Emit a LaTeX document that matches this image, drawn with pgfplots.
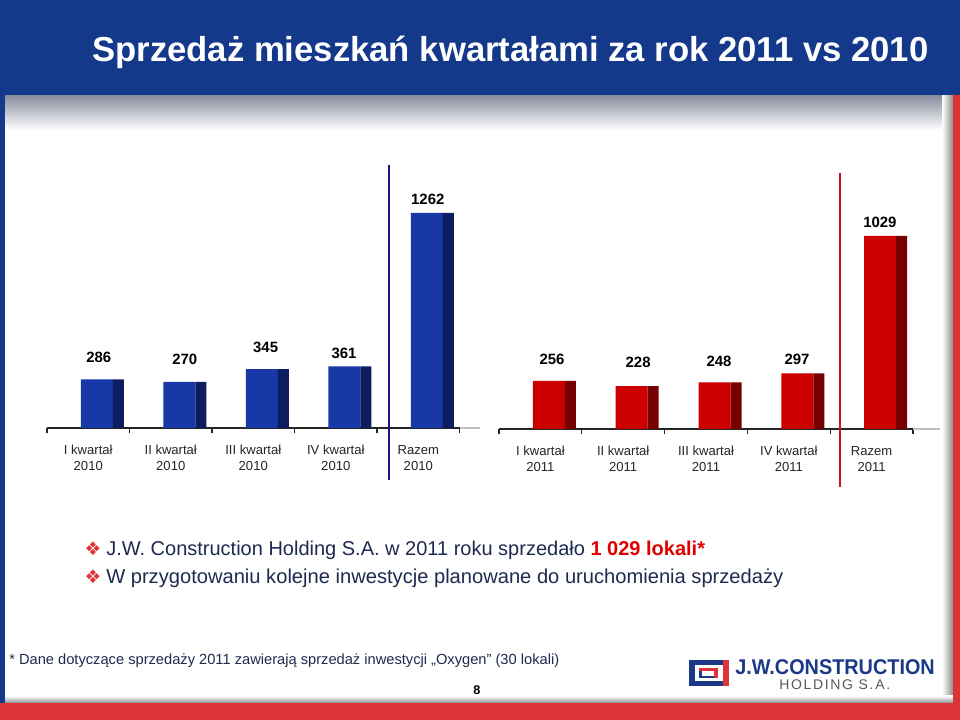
\documentclass[border=0pt]{standalone}
\usepackage{fontspec}
\setmainfont{Liberation Sans}
\newfontfamily\dejavu{DejaVu Sans}
\newfontfamily\logobold{Liberation Sans}[FakeStretch=0.93]
\newfontfamily\logothin{Liberation Sans}[LetterSpace=12]
\usepackage{pgfplots}
\pgfplotsset{compat=1.18}
\usepackage{pgfplotstable}

\definecolor{hdrblue}{RGB}{20,56,138}
\definecolor{barblue}{RGB}{24,56,168}
\definecolor{barblueD}{RGB}{12,30,96}
\definecolor{barred}{RGB}{204,0,0}
\definecolor{barredD}{RGB}{118,0,0}
\definecolor{bandred}{RGB}{222,52,56}
\definecolor{navytext}{RGB}{30,42,80}
\definecolor{divblue}{RGB}{20,20,130}
\definecolor{divred}{RGB}{200,20,30}
\definecolor{logoblue}{RGB}{26,58,135}
\definecolor{hlred}{RGB}{225,0,0}

\pgfplotstableread{
x y lx ly
0 286 0.127 417
1 270 1.17 405
2 345 2.15 475
3 361 3.10 440
4 1262 4.115 1344
}\dataA
\pgfplotstableread{
x y lx ly
0 256 0.14 373
1 228 1.18 357
2 248 2.157 362
3 297 3.10 373
4 1029 4.10 1103
}\dataB

\pgfplotsset{
  slidebars/.style={
    scale only axis, anchor=south west,
    xmin=-0.5, xmax=4.5, ymin=0, ymax=1400,
    clip=false,
    axis y line=none, axis x line=bottom,
    x axis line style={-, line width=1pt, draw=black!85},
    xtick={0,1,2,3,4},
    xticklabel style={align=center, font=\fontsize{9.8}{12}\selectfont, text=black!85, yshift=-9.5pt},
    minor xtick={-0.5,0.5,...,4.5},
    major tick length=0pt, minor tick length=4pt,
    tick align=outside,
    tick style={black!85, line width=0.8pt},
  },
  vallabels/.style={draw=none, mark=none, nodes near coords, point meta=explicit symbolic,
    nodes near coords style={anchor=center, font=\bfseries\fontsize{11.2}{12}\selectfont, text=black}},
}

\begin{document}
\begin{tikzpicture}[x=0.75pt, y=0.75pt]
% slide frame
\fill[white] (0,0) rectangle (960,720);
\shade[top color={rgb,255:red,135;green,140;blue,158}, bottom color=white] (5,590) rectangle (948,625);
\shade[left color=white, right color=black!45] (942,17) rectangle (953,625);
\shade[top color=white, bottom color=black!45] (5,17) rectangle (953,24);
\fill[hdrblue] (0,625) rectangle (960,720);
\fill[hdrblue] (0,17) rectangle (5,625);
\fill[bandred] (953,17) rectangle (960,625);
\fill[bandred] (0,0) rectangle (960,17);

\node[anchor=base west, inner sep=0, text=white, font=\bfseries\fontsize{26}{30}\selectfont] at (92,658) {Sprzedaż mieszkań kwartałami za rok 2011 vs 2010};

% 2010 chart
\begin{axis}[slidebars,
  at={(35.25pt,219pt)}, width=309.4pt, height=178.9pt,
  xticklabels={{I kwartał\\2010},{II kwartał\\2010},{III kwartał\\2010},{IV kwartał\\2010},{Razem\\2010}},
]
\addplot[ybar, bar width=24pt, bar shift=6.4pt, fill=barblue, draw=none] table[x=x, y=y]{\dataA};
\addplot[ybar, bar width=8.25pt, bar shift=22.5pt, fill=barblueD, draw=none] table[x=x, y=y]{\dataA};
\addplot[vallabels] table[x=lx, y=ly, meta=y]{\dataA};
\end{axis}

% 2011 chart
\begin{axis}[slidebars,
  at={(374.25pt,218.25pt)}, width=310.5pt, height=197pt,
  xticklabels={{I kwartał\\2011},{II kwartał\\2011},{III kwartał\\2011},{IV kwartał\\2011},{Razem\\2011}},
]
\addplot[ybar, bar width=24pt, bar shift=6.4pt, fill=barred, draw=none] table[x=x, y=y]{\dataB};
\addplot[ybar, bar width=8.25pt, bar shift=22.5pt, fill=barredD, draw=none] table[x=x, y=y]{\dataB};
\addplot[vallabels] table[x=lx, y=ly, meta=y]{\dataB};
\end{axis}

\draw[black!25, line width=1pt] (460,292) -- (480,292);
\draw[black!25, line width=1pt] (913,291) -- (940,291);
\draw[divblue, line width=1.6pt] (389,555) -- (389,240);
\draw[divred, line width=1.6pt] (840,547) -- (840,233);

% bullets
\node[anchor=base, inner sep=0, text=bandred, font=\dejavu\fontsize{14}{15}\selectfont] at (93,164) {❖};
\node[anchor=base west, inner sep=0, text=navytext, font=\fontsize{15}{18}\selectfont] at (106,164) {J.W. Construction Holding S.A. w 2011 roku sprzedało \textcolor{hlred}{\bfseries 1 029 lokali*}};
\node[anchor=base, inner sep=0, text=bandred, font=\dejavu\fontsize{14}{15}\selectfont] at (93,136) {❖};
\node[anchor=base west, inner sep=0, text=navytext, font=\fontsize{15.1}{18}\selectfont] at (106,136) {W przygotowaniu kolejne inwestycje planowane do uruchomienia sprzedaży};

% footnote & page
\node[anchor=base west, inner sep=0, text=navytext, font=\fontsize{11}{13}\selectfont] at (9,55) {* Dane dotyczące sprzedaży 2011 zawierają sprzedaż inwestycji „Oxygen” (30 lokali)};
\node[inner sep=0, font=\bfseries\fontsize{9.5}{11}\selectfont] at (477,30) {8};

% logo
\fill[logoblue] (689,34) rectangle (729,60);
\fill[bandred] (723,34) rectangle (729,60);
\fill[white] (695,39) rectangle (723,55);
\fill[bandred] (699,42) rectangle (718,52);
\fill[logoblue] (699,42) rectangle (714,49);
\fill[white] (702,44) rectangle (714,49);
\node[anchor=base west, inner sep=0, text=logoblue, font=\logobold\bfseries\fontsize{16}{17}\selectfont] at (735,45) {J.W.CONSTRUCTION};
\node[anchor=base west, inner sep=0, text=black!65, font=\logothin\fontsize{10.5}{12}\selectfont] at (779,30) {HOLDING S.A.};
\end{tikzpicture}
\end{document}
